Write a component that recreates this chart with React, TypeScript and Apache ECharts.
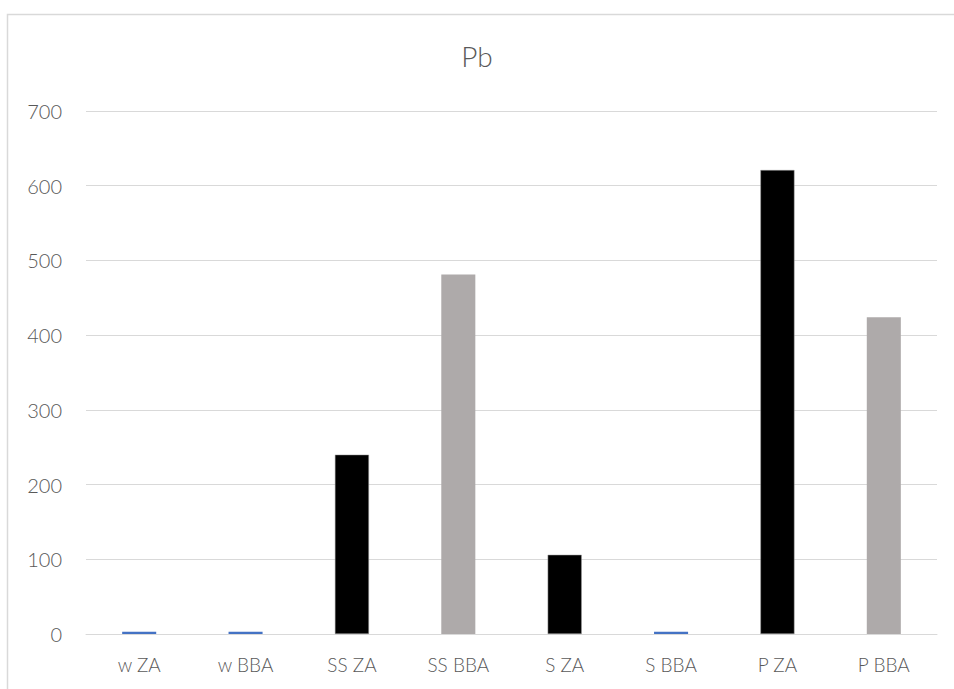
import React, { useEffect, useRef } from "react";
import * as echarts from "echarts";

const categories = ["w ZA", "w BBA", "SS ZA", "SS BBA", "S ZA", "S BBA", "P ZA", "P BBA"];
const values = [3, 3, 240, 481, 106, 3, 621, 424];
const barColors = ["#4472C4", "#4472C4", "#000000", "#AEAAAA", "#000000", "#4472C4", "#000000", "#AEAAAA"];
const yTicks = [0, 100, 200, 300, 400, 500, 600, 700];

export default function App() {
  const ref = useRef<HTMLDivElement>(null);
  useEffect(() => {
    if (!ref.current) return;
    const chart = echarts.init(ref.current, null, { renderer: "svg" });
    const font = "Lato";
    chart.setOption({
      animation: false,
      backgroundColor: "#ffffff",
      title: {
        text: "Pb",
        left: "center",
        top: 37,
        textStyle: { fontFamily: font, fontSize: 28, fontWeight: 300, color: "#595959" },
      },
      graphic: [
        {
          type: "rect",
          left: 5,
          top: 12,
          shape: { width: 980, height: 700 },
          style: { fill: "none", stroke: "#d9d9d9", lineWidth: 1.5 },
          silent: true,
        },
      ],
      grid: { left: 86, right: 17, top: 111, bottom: 55 },
      xAxis: {
        type: "category",
        data: categories,
        axisLine: { show: true, lineStyle: { color: "#d9d9d9", width: 1 } },
        axisTick: { show: false },
        axisLabel: { fontFamily: font, fontSize: 19, fontWeight: 300, color: "#595959", margin: 21 },
      },
      yAxis: {
        type: "value",
        min: yTicks[0],
        max: yTicks[yTicks.length - 1],
        interval: 100,
        axisLine: { show: false },
        axisTick: { show: false },
        splitLine: { lineStyle: { color: "#d9d9d9", width: 1 } },
        axisLabel: { fontFamily: font, fontSize: 20, fontWeight: 300, color: "#595959", margin: 24 },
      },
      series: [
        {
          type: "bar",
          barWidth: "32%",
          data: values.map((v, i) => ({
            value: v,
            itemStyle: {
              color: barColors[i],
              borderColor: barColors[i] === "#000000" ? "#9a9a9a" : barColors[i],
              borderWidth: barColors[i] === "#000000" ? 0.5 : 0,
            },
          })),
        },
      ],
    });
    return () => chart.dispose();
  }, []);
  return (
    <div
      ref={ref}
      style={{ position: "fixed", left: 0, top: 0, width: 954, height: 689 }}
    />
  );
}
